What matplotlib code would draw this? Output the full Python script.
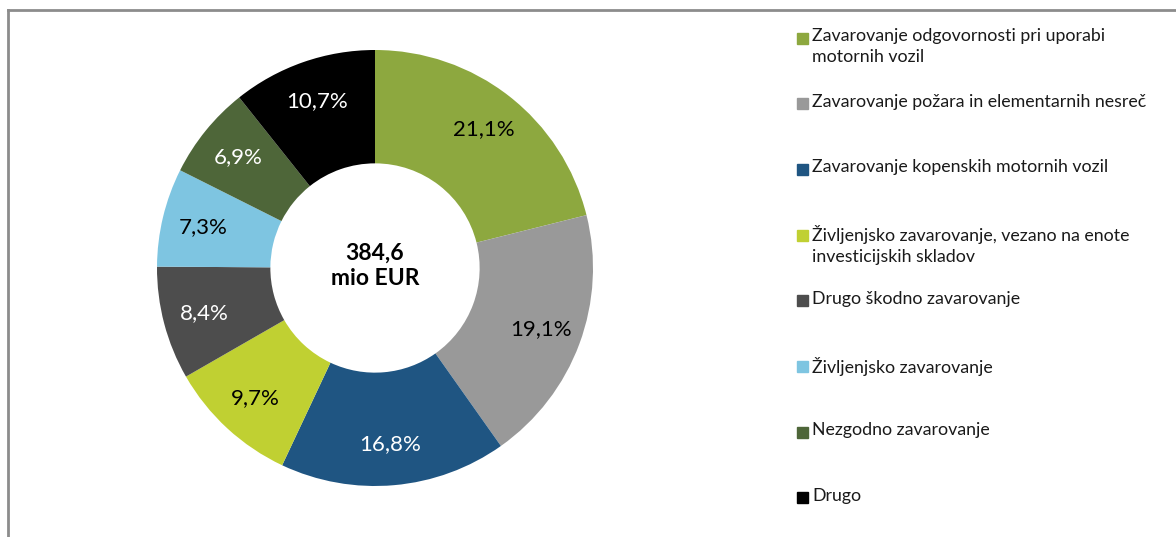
import matplotlib.pyplot as plt
from matplotlib.patches import Rectangle
from matplotlib.lines import Line2D

plt.rcParams['font.family'] = ['Lato', 'DejaVu Sans']

labels = [
    "Zavarovanje odgovornosti pri uporabi\nmotornih vozil",
    "Zavarovanje požara in elementarnih nesreč",
    "Zavarovanje kopenskih motornih vozil",
    "Življenjsko zavarovanje, vezano na enote\ninvesticijskih skladov",
    "Drugo škodno zavarovanje",
    "Življenjsko zavarovanje",
    "Nezgodno zavarovanje",
    "Drugo",
]
shares = [21.1, 19.1, 16.8, 9.7, 8.4, 7.3, 6.9, 10.7]
colors = ["#8DA83F", "#999999", "#1F5582", "#C0D032",
          "#4D4D4D", "#7EC5E1", "#4E6639", "#000000"]
text_colors = ["black", "black", "white", "black",
               "white", "black", "white", "white"]
total = "384,6\nmio EUR"

W, H = 1176, 537
fig = plt.figure(figsize=(W / 100, H / 100), dpi=100)

# chart frame (cut off at right and bottom)
fig.add_artist(Line2D([8 / W, 1], [1 - 10 / H, 1 - 10 / H], color="#8c8c8c", lw=2))
fig.add_artist(Line2D([8 / W, 8 / W], [0, 1 - 10 / H], color="#8c8c8c", lw=2))

# donut
cx, cy, r = 375, 268, 218
ax = fig.add_axes([(cx - r) / W, 1 - (cy + r) / H, 2 * r / W, 2 * r / H])
wedges, _, autotexts = ax.pie(
    shares, colors=colors, startangle=90, counterclock=False,
    wedgeprops=dict(width=0.52, linewidth=0),
    autopct=lambda p: f"{p:.1f}".replace(".", ",") + "%",
    pctdistance=0.81,
)
for t, c in zip(autotexts, text_colors):
    t.set_color(c)
    t.set_fontsize(16)
ax.text(0, 0.01, total, ha="center", va="center", fontsize=16.5,
        fontweight="bold", linespacing=1.3)
ax.set_xlim(-1, 1)
ax.set_ylim(-1, 1)
ax.set_aspect("equal")
ax.axis("off")

# legend
x_box, x_text, y0, step, sq = 797, 812, 38, 65.7, 11
for i, (lab, col) in enumerate(zip(labels, colors)):
    y = y0 + i * step
    fig.add_artist(Rectangle((x_box / W, 1 - (y + sq / 2) / H), sq / W, sq / H,
                             transform=fig.transFigure, color=col))
    fig.text(x_text / W, 1 - (y - 10) / H, lab, ha="left", va="top",
             fontsize=12.8, color="#1a1a1a", linespacing=1.4)

fig.savefig("out.png", dpi=100)
